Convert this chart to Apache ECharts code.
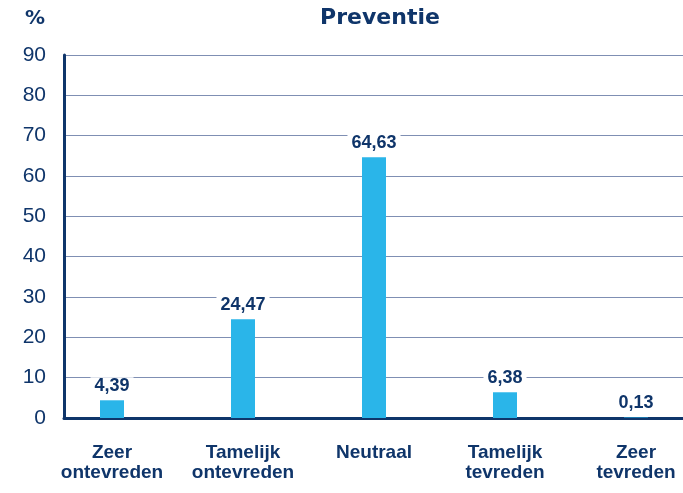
<!DOCTYPE html>
<html>
<head>
<meta charset="utf-8">
<script src="https://cdn.jsdelivr.net/npm/echarts@6/dist/echarts.min.js"></script>
<style>html,body{margin:0;padding:0;background:#fff}#c{width:683px;height:493px}</style>
</head>
<body>
<div id="c"></div>
<script>
const title = 'Preventie';
const categories = ['Zeer\nontevreden', 'Tamelijk\nontevreden', 'Neutraal', 'Tamelijk\ntevreden', 'Zeer\ntevreden'];
const values = [4.39, 24.47, 64.63, 6.38, 0.13];
const yMin = 0, yMax = 90, yStep = 10;

const navy = '#0f356a';
const boldFont = '"Liberation Sans", Arial, sans-serif';
const chart = echarts.init(document.getElementById('c'), null, {renderer: 'canvas'});
chart.setOption({
  animation: false,
  backgroundColor: '#fff',
  title: {
    text: title, left: 375, top: 2, textAlign: 'center',
    textStyle: {fontFamily: '"DejaVu Sans", sans-serif', fontWeight: 'bold', fontSize: 22, color: navy}
  },
  grid: [
    {left: 64, right: 0, top: 55, bottom: 75, outerBoundsMode: 'none'},
    {left: 46.5, width: 655, top: 55, bottom: 75, outerBoundsMode: 'none'}
  ],
  xAxis: [
    {gridIndex: 0, type: 'category', data: categories, axisLine: {show: true, lineStyle: {color: navy, width: 3}},
     axisTick: {show: false}, axisLabel: {show: false}},
    {gridIndex: 1, type: 'category', data: categories, axisLine: {show: false}, axisTick: {show: false},
     axisLabel: {interval: 0, margin: 25, color: navy, fontFamily: boldFont, fontWeight: 'bold', fontSize: 19, lineHeight: 20}}
  ],
  yAxis: [
    {gridIndex: 0, type: 'value', min: yMin, max: yMax, interval: yStep,
     name: '%', nameLocation: 'end', nameGap: 26,
     nameTextStyle: {align: 'right', padding: [0, 19, 0, 0], fontFamily: '"DejaVu Sans", sans-serif', fontWeight: 'bold', fontSize: 20, color: navy},
     axisLine: {show: true, lineStyle: {color: navy, width: 3}},
     axisTick: {show: false},
     axisLabel: {margin: 18, color: navy, fontFamily: '"Liberation Sans", Arial, sans-serif', fontSize: 21},
     splitLine: {show: true, lineStyle: {color: '#7f8fb3', width: 1.2}}},
    {gridIndex: 1, type: 'value', min: yMin, max: yMax, interval: yStep, show: false, splitLine: {show: false}}
  ],
  series: [{
    type: 'bar', xAxisIndex: 1, yAxisIndex: 1, data: values, barWidth: 24,
    itemStyle: {color: '#2ab5e9'},
    label: {
      show: true, position: 'top', distance: 5,
      formatter: p => p.value.toFixed(2).replace('.', ','),
      color: navy, fontFamily: boldFont, fontWeight: 'bold', fontSize: 18,
      backgroundColor: '#fff', padding: [0, 4]
    }
  }]
});
</script>
</body>
</html>
